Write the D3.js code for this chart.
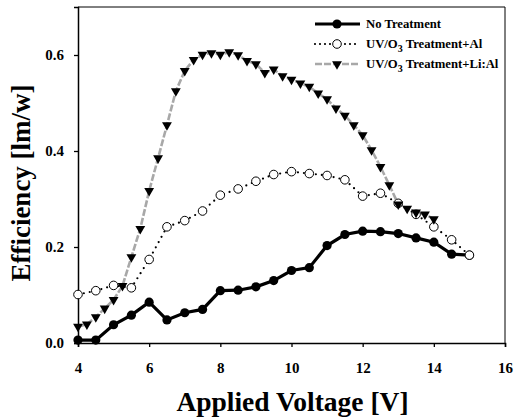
<!DOCTYPE html>
<html>
<head>
<meta charset="utf-8">
<script src="https://d3js.org/d3.v7.min.js"></script>
<style>
body { margin:0; background:#fff; }
text { font-family:"Liberation Serif","Times New Roman",serif; font-weight:bold; }
</style>
</head>
<body>
<div id="chart"></div>
<script>
// Daten
var voltHalf = [4,4.5,5,5.5,6,6.5,7,7.5,8,8.5,9,9.5,10,10.5,11,11.5,12,12.5,13,13.5,14,14.5,15]
var noTreatment = [0.006,0.006,0.038,0.058,0.085,0.048,0.063,0.07,0.109,0.11,0.117,0.13,0.151,0.157,0.203,0.226,0.233,0.232,0.228,0.219,0.21,0.185,0.183]
var uvAl = [0.101,0.109,0.12,0.115,0.174,0.242,0.255,0.275,0.308,0.321,0.337,0.351,0.357,0.353,0.349,0.34,0.306,0.312,0.291,0.268,0.242,0.215,0.183]
var voltQuarter = [4,4.25,4.5,4.75,5,5.25,5.5,5.75,6,6.25,6.5,6.75,7,7.25,7.5,7.75,8,8.25,8.5,8.75,9,9.25,9.5,9.75,10,10.25,10.5,10.75,11,11.25,11.5,11.75,12,12.25,12.5,12.75,13,13.25,13.5,13.75,14]
var uvLiAl = [0.034,0.039,0.054,0.072,0.09,0.119,0.179,0.238,0.317,0.385,0.454,0.525,0.567,0.59,0.601,0.604,0.601,0.606,0.6,0.588,0.581,0.563,0.57,0.556,0.549,0.541,0.534,0.52,0.508,0.489,0.474,0.454,0.433,0.402,0.367,0.329,0.289,0.28,0.272,0.268,0.258]
var xTicks = [4,6,8,10,12,14,16]
var yTicks = [0.0,0.2,0.4,0.6]
var legendNames = ["No Treatment","UV/O|3| Treatment+Al","UV/O|3| Treatment+Li:Al"]

var width = 514, height = 419
var margin = {top:7, right:9, bottom:75, left:78}

var svg = d3.select("#chart").append("svg").attr("width", width).attr("height", height)

var x = d3.scaleLinear().domain([4,16]).range([margin.left, width - margin.right])
var y = d3.scaleLinear().domain([0,0.7]).range([height - margin.bottom - 1, margin.top])

// Rahmen oben und rechts
svg.append("path")
  .attr("d", "M" + x(4) + "," + y(0.7) + "H" + x(16) + "V" + y(0))
  .attr("fill", "none").attr("stroke", "#000").attr("stroke-width", 1)

// Achsen
svg.append("g").attr("transform", "translate(0," + y(0) + ")")
  .call(d3.axisBottom(x).tickValues(xTicks).tickSize(4).tickPadding(15).tickFormat(d3.format("d")))
svg.append("g").attr("transform", "translate(" + x(4) + ",0)")
  .call(d3.axisLeft(y).tickValues(yTicks).tickSize(4).tickPadding(10).tickFormat(d3.format(".1f")))
svg.selectAll(".domain").attr("stroke-width", 1.5)
svg.selectAll(".tick line").attr("stroke-width", 1.3)
svg.selectAll(".tick text").style("font-size", "15px").style("font-family", "Liberation Serif, serif").style("font-weight", "bold").attr("fill", "#000")

// Achsentitel
svg.append("text").attr("x", (x(4) + x(16)) / 2 + 1).attr("y", 411)
  .attr("text-anchor", "middle").style("font-size", "27.5px").text("Applied Voltage [V]")
svg.append("text").attr("transform", "translate(30," + (y(0.35) + 8) + ") rotate(-90)")
  .attr("text-anchor", "middle").style("font-size", "27px").text("Efficiency [lm/w]")

var lineGen = function(xs) {
  return d3.line().x(function(d, i){ return x(xs[i]) }).y(function(d){ return y(d) })
}

// Li:Al Linie (grau, gestrichelt)
svg.append("path").datum(uvLiAl).attr("d", lineGen(voltQuarter))
  .attr("fill", "none").attr("stroke", "#a8a8a8").attr("stroke-width", 2.6).attr("stroke-dasharray", "7,2")
// Ohne Behandlung
svg.append("path").datum(noTreatment).attr("d", lineGen(voltHalf))
  .attr("fill", "none").attr("stroke", "#000").attr("stroke-width", 3.2)
svg.selectAll(".filled").data(noTreatment).enter().append("circle")
  .attr("cx", function(d, i){ return x(voltHalf[i]) })
  .attr("cy", function(d){ return y(d) })
  .attr("r", 4.6).attr("fill", "#000")
// Al Linie (gepunktet)
svg.append("path").datum(uvAl).attr("d", lineGen(voltHalf))
  .attr("fill", "none").attr("stroke", "#000").attr("stroke-width", 2.2)
  .attr("stroke-linecap", "round").attr("stroke-dasharray", "0,6")
svg.selectAll(".open").data(uvAl).enter().append("circle")
  .attr("cx", function(d, i){ return x(voltHalf[i]) })
  .attr("cy", function(d){ return y(d) })
  .attr("r", 4.3).attr("fill", "#fff").attr("stroke", "#000").attr("stroke-width", 1)

var tri = d3.symbol().type(d3.symbolTriangle).size(42)
svg.selectAll(".tri").data(uvLiAl).enter().append("path")
  .attr("d", tri)
  .attr("transform", function(d, i){ return "translate(" + x(voltQuarter[i]) + "," + y(d) + ") rotate(180)" })
  .attr("fill", "#000")

// Legende
var legendY = [24, 44, 64]
var lx1 = 315, lx2 = 360, lm = 337
svg.append("line").attr("x1", lx1).attr("x2", lx2).attr("y1", legendY[0]).attr("y2", legendY[0])
  .attr("stroke", "#000").attr("stroke-width", 3.2)
svg.append("circle").attr("cx", lm).attr("cy", legendY[0]).attr("r", 4.6).attr("fill", "#000")
svg.append("line").attr("x1", lx1).attr("x2", lx2).attr("y1", legendY[1]).attr("y2", legendY[1])
  .attr("stroke", "#000").attr("stroke-width", 2.2).attr("stroke-linecap", "round").attr("stroke-dasharray", "0,5")
svg.append("circle").attr("cx", lm).attr("cy", legendY[1]).attr("r", 4.3).attr("fill", "#fff").attr("stroke", "#000")
svg.append("line").attr("x1", lx1).attr("x2", lx2).attr("y1", legendY[2]).attr("y2", legendY[2])
  .attr("stroke", "#a8a8a8").attr("stroke-width", 2.6).attr("stroke-dasharray", "7,2")
svg.append("path").attr("d", tri).attr("transform", "translate(" + lm + "," + legendY[2] + ") rotate(180)").attr("fill", "#000")

legendNames.forEach(function(name, i){
  var t = svg.append("text").attr("x", 366).attr("y", legendY[i] + 4).style("font-size", "12.7px")
  var parts = name.split("|")
  t.append("tspan").text(parts[0])
  if (parts.length > 1) {
    t.append("tspan").attr("dy", 4).style("font-size", "10px").text(parts[1])
    t.append("tspan").attr("dy", -4).text(parts[2])
  }
})
</script>
</body>
</html>
